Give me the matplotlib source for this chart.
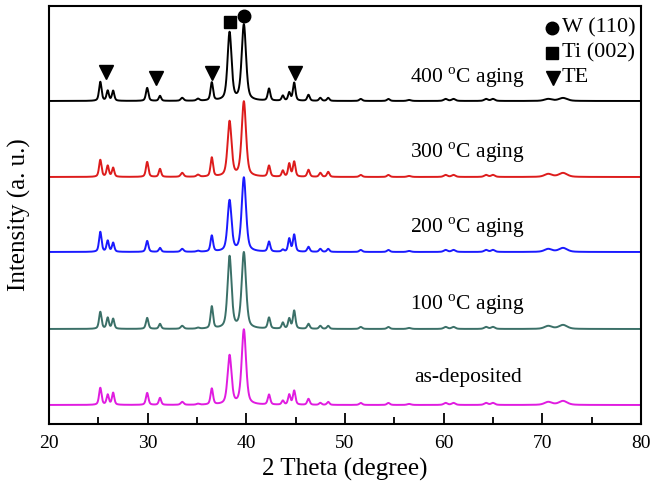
import numpy as np
import matplotlib
matplotlib.use("Agg")
import matplotlib.pyplot as plt

plt.rcParams['font.family'] = ['Liberation Serif', 'DejaVu Serif']
plt.rcParams['mathtext.fontset'] = 'custom'
plt.rcParams['mathtext.rm'] = 'Liberation Serif'

# ---- data ----
peak_pos = [25.2, 25.95, 26.5, 29.95, 31.25, 33.5, 35.1, 36.5, 38.3, 39.75,
            42.3, 43.7, 44.35, 44.85, 46.3, 47.5, 48.3, 51.6, 54.4, 56.5,
            60.2, 61.0, 64.3, 65.0, 70.6, 72.1]
peak_fwhm = [0.3, 0.28, 0.28, 0.3, 0.28, 0.35, 0.35, 0.3, 0.48, 0.52,
             0.3, 0.28, 0.28, 0.3, 0.3, 0.3, 0.3, 0.35, 0.35, 0.45,
             0.45, 0.45, 0.45, 0.45, 0.9, 1.0]

h_400 = [19, 10, 10, 13, 5, 3, 2, 18, 68, 76, 12, 5, 8, 18, 6, 3, 3, 2, 2, 1, 2, 2, 2, 2, 2, 3]
h_300 = [17, 11, 9, 15, 8, 4, 2, 19, 55, 75, 11, 6, 13, 15, 7, 4, 5, 2, 2, 1, 2, 2, 2, 2, 3, 4]
h_200 = [20, 11, 9, 11, 4, 3, 1, 16, 51, 74, 10, 2, 13, 17, 5, 3, 3, 2, 2, 1, 2, 2, 2, 2, 3, 4]
h_100 = [17, 11, 10, 11, 5, 3, 1, 22, 72, 76, 11, 6, 10, 18, 5, 3, 3, 2, 2, 1, 2, 2, 2, 2, 3, 4]
h_asdep = [17, 10, 12, 12, 7, 3, 1, 16, 49, 75, 10, 4, 10, 14, 6, 2, 3, 2, 2, 1, 2, 2, 2, 2, 3, 4]

series_heights = [h_400, h_300, h_200, h_100, h_asdep]
series_offsets = [323, 247, 172, 95, 19]
series_labels = ['400 $^{\\mathrm{o}}$C aging', '300 $^{\\mathrm{o}}$C aging',
                 '200 $^{\\mathrm{o}}$C aging', '100 $^{\\mathrm{o}}$C aging',
                 'as-deposited']
label_y = [346, 271, 196, 119, 46]
series_colors = ['#000000', '#dd1c1c', '#1a1aff', '#3b7068', '#e01ce0']

te_marker_x = [25.75, 30.8, 36.5, 44.9]
te_marker_y = [352, 346, 351, 351]
ti_marker = (38.3, 402)
w_marker = (39.8, 408)

x = np.linspace(20, 80, 6001)


def profile(heights):
    y = np.zeros_like(x)
    for p, w, h in zip(peak_pos, peak_fwhm, heights):
        g = np.exp(-4 * np.log(2) * ((x - p) / w) ** 2)
        l = 1.0 / (1 + 4 * ((x - p) / w) ** 2)
        y += h * (0.5 * g + 0.5 * l)
    return y


fig = plt.figure(figsize=(6.56, 4.83), dpi=100)
ax = fig.add_axes([0.0747, 0.1222, 0.9024, 0.8654])

for hs, off, col, lab, ly in zip(series_heights, series_offsets, series_colors,
                                  series_labels, label_y):
    ax.plot(x, profile(hs) + off, color=col, lw=1.4)
    ax.text(62.45, ly, lab, ha='center', va='center', fontsize=15.5)

ax.plot(te_marker_x, te_marker_y, 'v', color='k', ms=9.5, clip_on=False)
ax.plot([ti_marker[0]], [ti_marker[1]], 's', color='k', ms=8.5, clip_on=False)
ax.plot([w_marker[0]], [w_marker[1]], 'o', color='k', ms=9, clip_on=False)

# legend-like annotations
ax.plot([70.96], [396], 'o', color='k', ms=9)
ax.plot([70.96], [371], 's', color='k', ms=8.5)
ax.plot([71.1], [346], 'v', color='k', ms=9.5)
ax.text(72.0, 396, 'W (110)', ha='left', va='center', fontsize=16)
ax.text(72.0, 371, 'Ti (002)', ha='left', va='center', fontsize=16)
ax.text(72.0, 346, 'TE', ha='left', va='center', fontsize=16)

ax.set_xlim(20, 80)
ax.set_ylim(0, 418)
ax.set_xticks([20, 30, 40, 50, 60, 70, 80])
ax.set_xticks([25, 35, 45, 55, 65, 75], minor=True)
ax.set_yticks([])
ax.tick_params(axis='x', which='major', direction='in', length=8, width=1.3,
               labelsize=14, pad=8)
ax.tick_params(axis='x', which='minor', direction='in', length=5, width=1.3)
for s in ax.spines.values():
    s.set_linewidth(1.5)

ax.set_xlabel('2 Theta (degree)', fontsize=18, labelpad=4)
ax.set_ylabel('Intensity (a. u.)', fontsize=18, labelpad=13)

fig.savefig('out.png', dpi=100)
